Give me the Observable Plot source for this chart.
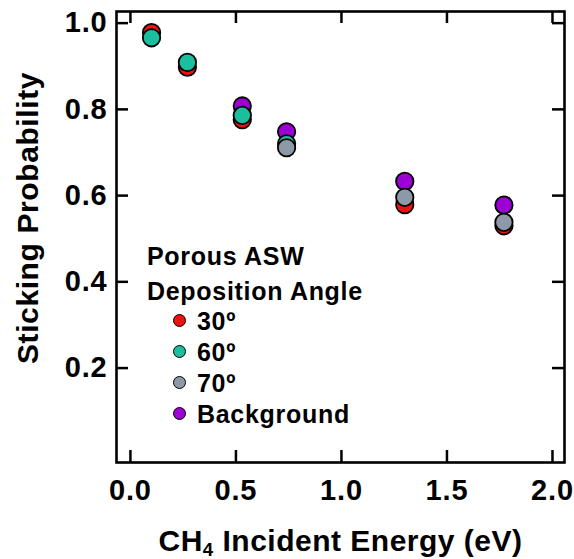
<!DOCTYPE html>
<html>
<head>
<meta charset="utf-8">
<script src="https://cdn.jsdelivr.net/npm/d3@7"></script>
<script src="https://cdn.jsdelivr.net/npm/@observablehq/plot@0.6"></script>
<style>
  html, body { margin: 0; padding: 0; background: #fff; }
  #wrap { position: relative; width: 574px; height: 559px; font-family: "Liberation Sans", Arial, sans-serif; font-weight: bold; color: #000; }
  .lg { position: absolute; font-size: 25px; line-height: 30px; height: 30px; white-space: nowrap; letter-spacing: 0.7px; }
  .sw { position: absolute; width: 11px; height: 11px; border: 1.6px solid #000; border-radius: 50%; }
</style>
</head>
<body>
<div id="wrap"></div>
<script>
// ---- data ----
const energies = [0.10, 0.27, 0.53, 0.74, 1.30, 1.77];          // CH4 incident energy (eV)
const seriesNames = ["30º", "60º", "70º", "Background"];
const seriesColors = ["#ee1111", "#1bbf9e", "#8d99a6", "#9c00d4"];
const p30 = [0.978, 0.898, 0.776, null, 0.579, 0.530];
const p60 = [0.966, 0.909, 0.786, 0.720, null, null];
const p70 = [null, null, null, 0.711, 0.596, 0.538];
const pBg = [null, null, 0.808, 0.748, 0.633, 0.578];
const xTicks = [0, 0.5, 1.0, 1.5, 2.0];
const yTicks = [0.2, 0.4, 0.6, 0.8, 1.0];
const xLabel = "CH4 Incident Energy (eV)";
const yLabel = "Sticking Probability";
const legendTitle = ["Porous ASW", "Deposition Angle"];

// drawing order (bottom to top)
const drawOrder = [["30º", p30], ["Background", pBg], ["60º", p60], ["70º", p70]];
const points = [];
for (const [name, vals] of drawOrder) {
  vals.forEach((v, i) => { if (v != null) points.push({series: name, energy: energies[i], p: v}); });
}

const fmt = d3.format(".1f");
const W = 574, H = 559, ML = 116, MR = 10, MT = 11, MB = 97;
const T = 12; // inward tick length
const fw = W - ML - MR, fh = H - MT - MB;
const tickStyle = {stroke: "#000", strokeWidth: 2.5};
const chart = Plot.plot({
  width: W, height: H,
  marginLeft: ML, marginRight: MR, marginTop: MT, marginBottom: MB,
  style: {fontFamily: "'Liberation Sans', Arial, sans-serif", fontWeight: "bold", color: "#000", background: "#fff", overflow: "visible"},
  x: {domain: [-0.066, 2.057]},
  y: {domain: [-0.019, 1.027]},
  color: {domain: seriesNames, range: seriesColors},
  marks: [
    // inward ticks on all four sides
    Plot.tickX(xTicks, {x: d => d, insetTop: fh - T, ...tickStyle}),
    Plot.tickX(xTicks, {x: d => d, insetBottom: fh - T, ...tickStyle}),
    Plot.tickY(yTicks, {y: d => d, insetRight: fw - T, ...tickStyle}),
    Plot.tickY(yTicks, {y: d => d, insetLeft: fw - T, ...tickStyle}),
    // tick labels
    Plot.axisX({anchor: "bottom", ticks: xTicks, tickSize: 0, tickPadding: 17, tickFormat: fmt, fontSize: 29, label: null}),
    Plot.axisY({anchor: "left", ticks: yTicks, tickSize: 0, tickPadding: 9, tickFormat: fmt, fontSize: 29, label: null}),
    Plot.frame({stroke: "#000", strokeWidth: 2.6}),
    Plot.dot(points, {x: "energy", y: "p", fill: "series", r: 8.7, stroke: "#000", strokeWidth: 1.8}),
    Plot.text([yLabel], {frameAnchor: "left", text: d => d, rotate: -90, textAnchor: "middle", dx: -88, dy: -19, fontSize: 30, lineAnchor: "middle"}),
    Plot.text([xLabel], {frameAnchor: "bottom", text: d => d, dy: 79, fontSize: 30, lineAnchor: "middle"})
  ]
});
const wrap = document.getElementById("wrap");
wrap.appendChild(chart);

// letter spacing (reference type is slightly wide) and subscript in the x label
d3.select(chart).selectAll("text").each(function() {
  const t = d3.select(this);
  if (this.textContent === xLabel) {
    t.text(null);
    t.append("tspan").text("CH");
    t.append("tspan").text("4").attr("font-size", "0.62em").attr("dy", "0.28em");
    t.append("tspan").text(" Incident Energy (eV)").attr("dy", "-0.17em");
    t.attr("letter-spacing", "0.5px");
  } else if (this.textContent === yLabel) {
    t.attr("letter-spacing", "0.6px");
  } else {
    t.attr("letter-spacing", "0.8px");
  }
});

// legend (inside the plot area)
const titleCenters = [256, 291];
legendTitle.forEach((s, i) => {
  const d = document.createElement("div");
  d.className = "lg"; d.textContent = s;
  d.style.left = "147px"; d.style.top = (titleCenters[i] - 15) + "px";
  wrap.appendChild(d);
});
const entryCenters = [321, 352, 383, 414];
seriesNames.forEach((s, i) => {
  const sw = document.createElement("div");
  sw.className = "sw"; sw.style.background = seriesColors[i];
  sw.style.left = (180 - 7.1) + "px"; sw.style.top = (entryCenters[i] - 7.1) + "px";
  wrap.appendChild(sw);
  const d = document.createElement("div");
  d.className = "lg"; d.textContent = s;
  d.style.left = "197px"; d.style.top = (entryCenters[i] - 15) + "px";
  wrap.appendChild(d);
});
</script>
</body>
</html>
